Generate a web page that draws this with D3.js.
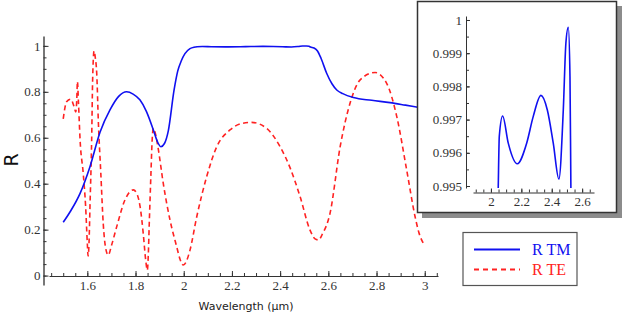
<!DOCTYPE html>
<html>
<head>
<meta charset="utf-8">
<script src="https://cdn.jsdelivr.net/npm/d3@7"></script>
<style>
  body { margin: 0; background: #fff; }
</style>
</head>
<body>
<div id="chart"></div>
<script>
// wavelength (um) and reflectance for the TM polarisation
var tmWavelength = [1.50, 1.53, 1.57, 1.611, 1.653, 1.694, 1.73, 1.763, 1.79, 1.818, 1.845, 1.874, 1.89, 1.905,
    1.92, 1.936, 1.96, 1.975, 1.99, 2.005, 2.026, 2.048, 2.055, 2.077, 2.114, 2.173, 2.235, 2.278, 2.329,
    2.371, 2.41, 2.447, 2.476, 2.493, 2.509, 2.52, 2.526, 2.54, 2.555, 2.57, 2.593, 2.615, 2.635, 2.66, 2.704,
    2.78, 2.856, 2.92, 2.971, 3.0];
var tmR = [0.232, 0.28, 0.358, 0.474, 0.625, 0.721, 0.78, 0.800, 0.79, 0.765, 0.715, 0.634, 0.585, 0.561,
    0.575, 0.63, 0.808, 0.89, 0.935, 0.966, 0.988, 0.99493, 0.9965, 0.99711, 0.99629, 0.99567, 0.99629, 0.99709, 0.99773,
    0.99729, 0.99629, 0.99521, 0.99729, 0.9993, 0.99978, 0.99829, 0.99493, 0.991, 0.978, 0.945, 0.881, 0.835, 0.808, 0.792, 0.775,
    0.763, 0.753, 0.742, 0.733, 0.728];

// wavelength (um) and reflectance for the TE polarisation
var teWavelength = [1.50, 1.514, 1.531, 1.545, 1.552, 1.556, 1.559, 1.563, 1.570, 1.583, 1.593, 1.600, 1.603,
    1.607, 1.611, 1.618, 1.622, 1.628, 1.633, 1.639, 1.646, 1.656, 1.666, 1.676, 1.687, 1.70, 1.722, 1.756,
    1.791, 1.808, 1.819, 1.832, 1.842, 1.849, 1.853, 1.857, 1.864, 1.869, 1.874, 1.882, 1.895, 1.915, 1.943,
    1.971, 1.985, 1.998, 2.01, 2.026, 2.054, 2.095, 2.137, 2.192, 2.24, 2.282, 2.344, 2.40, 2.441, 2.483,
    2.524, 2.545, 2.559, 2.575, 2.607, 2.649, 2.69, 2.732, 2.794, 2.842, 2.884, 2.925, 2.96, 2.975, 3.0];
var teR = [0.682, 0.757, 0.768, 0.735, 0.712, 0.76, 0.845, 0.76, 0.59, 0.445, 0.30, 0.14, 0.085,
    0.14, 0.30, 0.59, 0.85, 0.978, 0.95, 0.881, 0.663, 0.445, 0.227, 0.12, 0.089, 0.13, 0.213, 0.329,
    0.373, 0.35, 0.30, 0.184, 0.07, 0.024, 0.09, 0.227, 0.445, 0.59, 0.641, 0.62, 0.547, 0.402, 0.242,
    0.125, 0.07, 0.046, 0.06, 0.111, 0.256, 0.43, 0.561, 0.634, 0.662, 0.667, 0.641, 0.561, 0.47, 0.343,
    0.198, 0.16, 0.155, 0.18, 0.271, 0.561, 0.75, 0.852, 0.884, 0.837, 0.692, 0.46, 0.256, 0.19, 0.13];

// tick labels
var xTicks = [1.6, 1.8, 2, 2.2, 2.4, 2.6, 2.8, 3];
var yTicks = [0, 0.2, 0.4, 0.6, 0.8, 1];
var insetXTicks = [2, 2.2, 2.4, 2.6];
var insetYTicks = [0.995, 0.996, 0.997, 0.998, 0.999, 1];

var seriesNames = ["R TM", "R TE"];

var tmData = tmWavelength.map((x, i) => ({x: x, y: tmR[i]}));
var teData = teWavelength.map((x, i) => ({x: x, y: teR[i]}));

var svg = d3.select("#chart")
    .append("svg")
    .attr("width", 623)
    .attr("height", 314);

// serif tick labels like the original
function styleTicks(g) {
    g.selectAll(".tick text")
        .style("font-family", "Liberation Serif")
        .style("font-size", "13px")
        .style("fill", "#333");
    g.selectAll(".tick line").attr("stroke", "#333");
}

// main scales
var xScale = d3.scaleLinear().domain([1.441, 3.055]).range([49, 438]);
var yScale = d3.scaleLinear().domain([-0.041, 1.043]).range([285, 36]);

// minor ticks first, then major ticks with labels
svg.append("g")
    .attr("transform", "translate(0,276)")
    .call(d3.axisBottom(xScale).tickValues(d3.range(1.45, 3.06, 0.05)).tickSizeInner(-3).tickSizeOuter(0).tickFormat(""))
    .call(g => g.select(".domain").attr("stroke", "#333"))
    .call(styleTicks);

svg.append("g")
    .attr("transform", "translate(0,276)")
    .call(d3.axisBottom(xScale).tickValues(xTicks).tickSizeInner(-5).tickSizeOuter(0).tickPadding(5).tickFormat(d => String(d)))
    .call(g => g.select(".domain").remove())
    .call(styleTicks);

svg.append("g")
    .attr("transform", "translate(43.5,0)")
    .call(d3.axisLeft(yScale).tickValues(d3.range(0, 1.001, 0.05)).tickSizeInner(-3).tickSizeOuter(0).tickFormat(""))
    .call(g => g.select(".domain").attr("stroke", "#777").attr("stroke-width", 2))
    .call(styleTicks);

svg.append("g")
    .attr("transform", "translate(43.5,0)")
    .call(d3.axisLeft(yScale).tickValues(yTicks).tickSizeInner(-5).tickSizeOuter(0).tickPadding(3).tickFormat(d => String(d)))
    .call(g => g.select(".domain").remove())
    .call(styleTicks);

// axis titles
svg.append("text")
    .attr("transform", "translate(18,160) rotate(-90)")
    .attr("text-anchor", "middle")
    .style("font-family", "DejaVu Sans")
    .style("font-size", "19px")
    .style("fill", "#111")
    .text("R");

svg.append("text")
    .attr("x", 246)
    .attr("y", 310)
    .attr("text-anchor", "middle")
    .style("font-family", "DejaVu Sans")
    .style("font-size", "11px")
    .style("fill", "#222")
    .text("Wavelength (µm)");

var line = d3.line()
    .x(d => xScale(d.x))
    .y(d => yScale(d.y))
    .curve(d3.curveMonotoneX);

svg.append("path")
    .datum(teData)
    .attr("d", line)
    .attr("fill", "none")
    .attr("stroke", "#f22")
    .attr("stroke-width", 1.6)
    .attr("stroke-dasharray", "5,3.5");

svg.append("path")
    .datum(tmData)
    .attr("d", line)
    .attr("fill", "none")
    .attr("stroke", "#1010f0")
    .attr("stroke-width", 1.6);

// inset panel with shadow
svg.append("rect")
    .attr("x", 422).attr("y", 6)
    .attr("width", 200).attr("height", 212)
    .attr("fill", "#8c8c8c");

svg.append("rect")
    .attr("x", 417.5).attr("y", 1.5)
    .attr("width", 199).attr("height", 211)
    .attr("fill", "#fff")
    .attr("stroke", "#333")
    .attr("stroke-width", 1.5);

var insetX = d3.scaleLinear().domain([1.882, 2.678]).range([473, 594]);
var insetY = d3.scaleLinear().domain([0.99494, 1.00012]).range([188, 16]);

svg.append("g")
    .attr("transform", "translate(0,192.5)")
    .call(d3.axisBottom(insetX).tickValues(d3.range(1.9, 2.66, 0.05)).tickSizeInner(-3).tickSizeOuter(0).tickFormat(""))
    .call(g => g.select(".domain").attr("stroke", "#333"))
    .call(styleTicks);

svg.append("g")
    .attr("transform", "translate(0,192.5)")
    .call(d3.axisBottom(insetX).tickValues(insetXTicks).tickSizeInner(-4).tickSizeOuter(0).tickPadding(4).tickFormat(d => String(d)))
    .call(g => g.select(".domain").remove())
    .call(styleTicks);

svg.append("g")
    .attr("transform", "translate(466,0)")
    .call(d3.axisLeft(insetY).tickValues(d3.range(0.995, 1.0001, 0.0005)).tickSizeInner(-3).tickSizeOuter(0).tickFormat(""))
    .call(g => g.select(".domain").attr("stroke", "#333"))
    .call(styleTicks);

svg.append("g")
    .attr("transform", "translate(466,0)")
    .call(d3.axisLeft(insetY).tickValues(insetYTicks).tickSizeInner(-4).tickSizeOuter(0).tickPadding(4).tickFormat(d => String(d)))
    .call(g => g.select(".domain").remove())
    .call(styleTicks);

svg.append("clipPath")
    .attr("id", "insetClip")
    .append("rect")
    .attr("x", 467).attr("y", 14)
    .attr("width", 130).attr("height", 174);

var insetLine = d3.line()
    .x(d => insetX(d.x))
    .y(d => insetY(d.y))
    .curve(d3.curveMonotoneX);

svg.append("path")
    .datum(tmData.filter(d => d.x > 1.99 && d.x < 2.6))
    .attr("d", insetLine)
    .attr("clip-path", "url(#insetClip)")
    .attr("fill", "none")
    .attr("stroke", "#1010f0")
    .attr("stroke-width", 1.6);

// legend
var legend = svg.append("g");

legend.append("rect")
    .attr("x", 463).attr("y", 232.5)
    .attr("width", 114).attr("height", 53)
    .attr("fill", "#fff")
    .attr("stroke", "#555")
    .attr("stroke-width", 1.2);

var legendColors = ["#1010f0", "#f22"];
seriesNames.forEach(function(name, i) {
    var y = 249.5 + i * 20;
    legend.append("line")
        .attr("x1", 474).attr("x2", 520)
        .attr("y1", y).attr("y2", y)
        .attr("stroke", legendColors[i])
        .attr("stroke-width", 1.8)
        .attr("stroke-dasharray", i == 1 ? "5,4" : null);
    legend.append("text")
        .attr("x", 532)
        .attr("y", y + 5.5)
        .style("font-family", "Liberation Serif")
        .style("font-size", "16px")
        .style("fill", legendColors[i])
        .text(name);
});
</script>
</body>
</html>
